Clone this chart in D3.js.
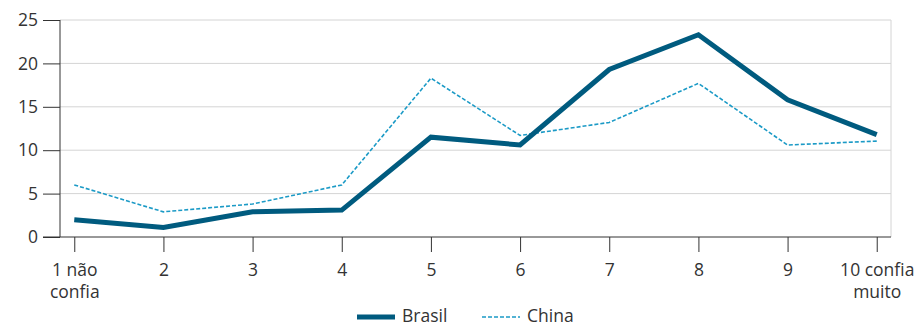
<!DOCTYPE html>
<html><head><meta charset="utf-8">
<script src="https://cdn.jsdelivr.net/npm/d3@7"></script>
<style>body{margin:0;background:#fff}svg{display:block}text{font-family:"Open Sans",sans-serif;fill:#333}</style>
</head><body><svg id="c" width="917" height="327"></svg>
<script>
const categories = ["1 não|confia","2","3","4","5","6","7","8","9","10 confia|muito"];
const brasil = [2.0,1.1,2.9,3.1,11.5,10.6,19.3,23.3,15.8,11.8];
const china = [6.0,2.9,3.8,6.0,18.3,11.7,13.2,17.7,10.6,11.05];
const yTicks = [0,5,10,15,20,25];
const FS = "17.5px";

const svg = d3.select("#c");
const L=60,R=891,T=20,B=237;
const x = d3.scalePoint().domain(categories).range([L,R]).padding(0.16);
const y = d3.scaleLinear().domain([0,25]).range([B,T]);

// gridlines
svg.append("g").selectAll("line").data(yTicks.filter(d=>d>0)).join("line")
  .attr("x1",L).attr("x2",R).attr("y1",d=>y(d)).attr("y2",d=>y(d))
  .attr("stroke","#d4d4d4").attr("stroke-width",1);
svg.append("line").attr("x1",R).attr("x2",R).attr("y1",T).attr("y2",B).attr("stroke","#d4d4d4");

// y axis
const ya = svg.append("g").attr("transform",`translate(${L},0)`)
  .call(d3.axisLeft(y).tickValues(yTicks).tickSize(17).tickPadding(5));
ya.select(".domain").attr("stroke","#333").attr("d",`M0,${T}V${B}`);
ya.selectAll(".tick line").attr("stroke","#333");
ya.selectAll("text").style("font-size",FS).attr("fill","#333");

// x axis
const xa = svg.append("g").attr("transform",`translate(0,${B})`)
  .call(d3.axisBottom(x).tickSize(15).tickFormat(""));
xa.select(".domain").attr("stroke","#333").attr("d",`M43,0H${R}`);
xa.selectAll(".tick line").attr("stroke","#333");
xa.selectAll(".tick").each(function(d){
  const parts=d.split("|");
  const t=d3.select(this).append("text").attr("text-anchor","middle").style("font-size",FS).attr("fill","#333");
  parts.forEach((p,i)=>t.append("tspan").attr("x",0).attr("y",39+i*22).text(p));
});

const line = d3.line().x((d,i)=>x(categories[i])).y(d=>y(d));
svg.append("path").datum(china).attr("d",line).attr("fill","none")
  .attr("stroke","#1b9ac6").attr("stroke-width",1.6).attr("stroke-dasharray","4,2");
svg.append("path").datum(brasil).attr("d",line).attr("fill","none")
  .attr("stroke","#005b7f").attr("stroke-width",5).attr("stroke-linejoin","miter");

// legend
const lg = svg.append("g");
lg.append("line").attr("x1",357).attr("x2",395).attr("y1",317).attr("y2",317).attr("stroke","#005b7f").attr("stroke-width",5);
lg.append("text").attr("x",402).attr("y",321.5).style("font-size",FS).text("Brasil");
lg.append("line").attr("x1",482).attr("x2",520).attr("y1",317).attr("y2",317).attr("stroke","#1b9ac6").attr("stroke-width",1.6).attr("stroke-dasharray","4,2");
lg.append("text").attr("x",527).attr("y",321.5).style("font-size",FS).text("China");
</script></body></html>
